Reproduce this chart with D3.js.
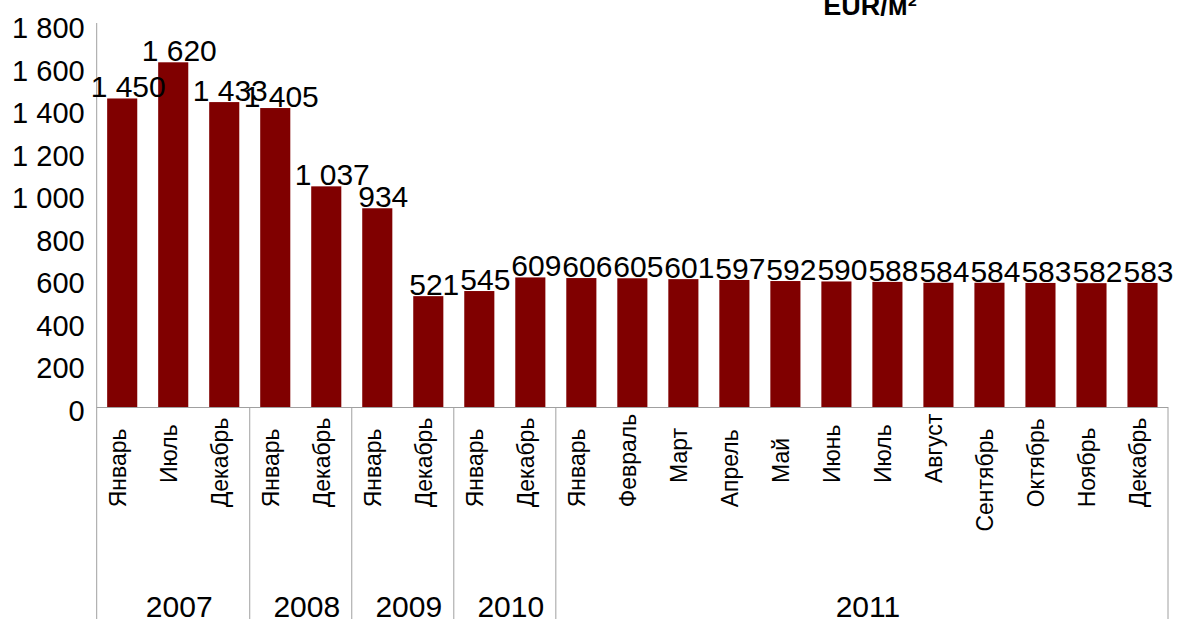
<!DOCTYPE html>
<html>
<head>
<meta charset="utf-8">
<script src="https://cdn.jsdelivr.net/npm/d3@7"></script>
<style>
  html, body { margin: 0; padding: 0; background: #fff; }
  svg { display: block; font-family: "Liberation Sans", Arial, sans-serif; }
</style>
</head>
<body>
<svg id="chart" width="1177" height="619"></svg>
<script>
// Chart data
var months = [
  'Январь', 'Июль', 'Декабрь',
  'Январь', 'Декабрь',
  'Январь', 'Декабрь',
  'Январь', 'Декабрь',
  'Январь', 'Февраль', 'Март', 'Апрель', 'Май', 'Июнь',
  'Июль', 'Август', 'Сентябрь', 'Октябрь', 'Ноябрь', 'Декабрь'
];
var years = [
  '2007', '2007', '2007',
  '2008', '2008',
  '2009', '2009',
  '2010', '2010',
  '2011', '2011', '2011', '2011', '2011', '2011',
  '2011', '2011', '2011', '2011', '2011', '2011'
];
var values = [
  1450, 1620, 1433,
  1405, 1037,
  934, 521,
  545, 609,
  606, 605, 601, 597, 592, 590,
  588, 584, 584, 583, 582, 583
];
var yTicks = [0, 200, 400, 600, 800, 1000, 1200, 1400, 1600, 1800];
var title = 'EUR/м²';

var svg = d3.select('#chart');
var width = +svg.attr('width');
var height = +svg.attr('height');

var margin = {top: 24, left: 96.7, right: 9, baseline: 407};
var lineColor = '#a0a0a0';
var barColor = '#800000';

var ru = d3.formatLocale({decimal: ',', thousands: ' ', grouping: [3], currency: ['', '']});
var fmt = ru.format(',d');

var x = d3.scaleBand()
  .domain(d3.range(values.length))
  .range([margin.left, width - margin.right])
  .paddingInner(0.41)
  .paddingOuter(0.205);

var y = d3.scaleLinear()
  .domain([0, 1800])
  .range([margin.baseline, margin.top]);

var step = x.step();
var x0 = margin.left;

// Y axis labels
var yAxis = d3.axisLeft(y)
  .tickValues(yTicks)
  .tickSize(0)
  .tickPadding(12)
  .tickFormat(fmt);

var gy = svg.append('g')
  .attr('transform', 'translate(' + x0 + ',0)')
  .call(yAxis);
gy.select('.domain').remove();
gy.selectAll('text')
  .attr('dy', null)
  .attr('y', 13.5)
  .style('font-family', '"Liberation Sans", Arial, sans-serif')
  .style('font-size', '29px')
  .attr('fill', '#000');

// Bars
svg.append('g')
  .selectAll('rect')
  .data(values)
  .enter().append('rect')
    .attr('x', function(d, i) { return x(i); })
    .attr('y', function(d) { return y(d); })
    .attr('width', x.bandwidth())
    .attr('height', function(d) { return y(0) - y(d) + 1; })
    .attr('fill', barColor);

// Axis lines
svg.append('line')
  .attr('x1', x0).attr('x2', x0)
  .attr('y1', margin.top - 1).attr('y2', height)
  .attr('stroke', lineColor).attr('stroke-width', 1);

svg.append('line')
  .attr('x1', x0).attr('x2', width - margin.right)
  .attr('y1', margin.baseline + 0.5).attr('y2', margin.baseline + 0.5)
  .attr('stroke', lineColor).attr('stroke-width', 1);

// Year groups
var groups = [];
years.forEach(function(yr, i) {
  var last = groups[groups.length - 1];
  if (last && last.year === yr)
    last.end = i + 1;
  else
    groups.push({year: yr, start: i, end: i + 1});
});

svg.append('g')
  .selectAll('line')
  .data(groups)
  .enter().append('line')
    .attr('x1', function(d) { return x0 + d.end * step; })
    .attr('x2', function(d) { return x0 + d.end * step; })
    .attr('y1', margin.baseline)
    .attr('y2', height)
    .attr('stroke', lineColor)
    .attr('stroke-width', 1);

svg.append('g')
  .selectAll('text')
  .data(groups)
  .enter().append('text')
    .attr('x', function(d) { return x0 + (d.start + d.end) / 2 * step + 6; })
    .attr('y', 617)
    .attr('text-anchor', 'middle')
    .style('font-size', '30px')
    .text(function(d) { return d.year; });

// Month labels (start position snaps in steps, like the source renderer)
svg.append('g')
  .selectAll('text')
  .data(months)
  .enter().append('text')
    .attr('text-anchor', 'start')
    .style('font-size', '23px')
    .text(function(d) { return d; })
    .attr('transform', function(d, i) {
      var len = this.getComputedTextLength();
      var k = len < 72 ? 0 : (len < 101 ? 1 : 2);
      var start = 483 + k * 24.3;
      return 'translate(' + (x(i) + x.bandwidth() / 2 + 4) + ',' + start + ') rotate(-90)';
    });

// Value labels
svg.append('g')
  .selectAll('text')
  .data(values)
  .enter().append('text')
    .attr('x', function(d, i) { return x(i) + x.bandwidth() / 2 + 6; })
    .attr('y', function(d) { return y(d) - 1; })
    .attr('text-anchor', 'middle')
    .style('font-size', '30px')
    .text(function(d) { return fmt(d); });

// Title
svg.append('text')
  .attr('x', 870)
  .attr('y', 15)
  .attr('text-anchor', 'middle')
  .style('font-size', '27px')
  .style('font-weight', 'bold')
  .text(title);
</script>
</body>
</html>
